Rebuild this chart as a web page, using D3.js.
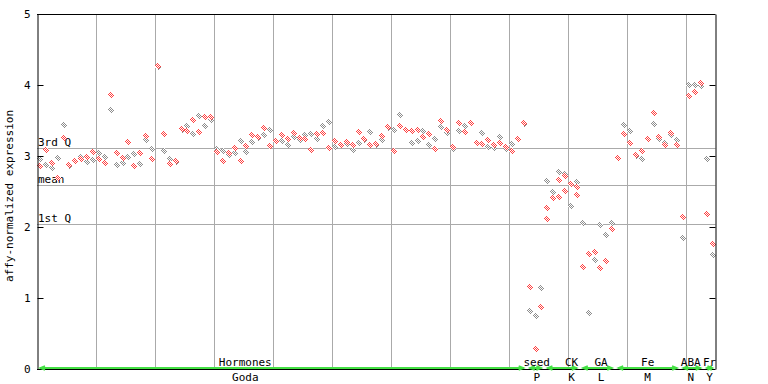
<!DOCTYPE html>
<html lang="en">
<head>
<meta charset="UTF-8">
<title>affy-normalized expression</title>
<script src="https://d3js.org/d3.v7.min.js"></script>
<style>
    body { margin: 0; background: #fff; }
    text { font-family: "DejaVu Sans Mono", monospace; font-size: 11px; fill: #000; }
</style>
</head>
<body>
<div id="chart"></div>
<script>
// samples (columns), two probe series per sample
const samples = d3.range(115);

const red = [2.86, 3.08, 2.90, 2.69, 3.25, 2.87, 2.93, 2.96, 2.99, 3.06,
             2.96, 2.90, 3.86, 3.04, 2.97, 3.20, 2.86, 3.04, 3.28, 2.96,
             4.27, 3.31, 2.89, 2.93, 3.38, 3.35, 3.51, 3.34, 3.55, 3.55,
             3.06, 2.93, 3.04, 3.11, 2.93, 3.14, 3.30, 3.27, 3.39, 3.14,
             3.21, 3.30, 3.24, 3.32, 3.25, 3.24, 3.08, 3.31, 3.32, 3.11,
             3.21, 3.15, 3.20, 3.15, 3.34, 3.24, 3.15, 3.17, 3.28, 3.41,
             3.07, 3.42, 3.37, 3.35, 3.37, 3.27, 3.31, 3.10, 3.49, 3.37,
             3.13, 3.46, 3.34, 3.47, 3.18, 3.17, 3.23, 3.15, 3.18, 3.13,
             3.07, 3.24, 3.46, 1.15, 0.28, 0.87, 2.27, 2.41, 2.66, 2.72,
             2.61, 2.56, 1.44, 1.62, 1.65, 1.42, 1.52, 1.97, 2.97, 3.31,
             3.18, 3.01, 3.07, 3.24, 3.61, 3.27, 3.15, 3.32, 3.15, 2.14,
             3.85, 3.90, 4.03, 2.18, 1.76];

const grey = [2.96, 2.87, 2.83, 2.97, 3.44, 2.86, 2.93, 2.99, 2.92, 2.94,
              3.04, 2.99, 3.65, 2.87, 2.90, 2.99, 3.03, 2.89, 3.23, 3.10,
              4.25, 3.07, 2.96, 2.92, 3.37, 3.42, 3.31, 3.56, 3.42, 3.51,
              3.10, 3.07, 3.01, 3.04, 3.21, 3.06, 3.20, 3.26, 3.30, 3.37,
              3.21, 3.21, 3.15, 3.27, 3.23, 3.30, 3.31, 3.24, 3.42, 3.48,
              3.13, 3.16, 3.17, 3.08, 3.18, 3.23, 3.34, 3.16, 3.23, 3.40,
              3.37, 3.58, 3.36, 3.18, 3.21, 3.35, 3.15, 3.24, 3.41, 3.32,
              3.10, 3.35, 3.42, 3.46, 3.18, 3.32, 3.13, 3.11, 3.27, 3.10,
              3.17, 3.24, 3.45, 0.82, 0.75, 1.14, 2.65, 2.49, 2.77, 2.75,
              2.30, 2.63, 2.06, 0.79, 1.54, 2.03, 1.89, 2.06, 2.97, 3.44,
              3.35, 3.00, 2.96, 3.24, 3.45, 3.24, 3.18, 3.30, 3.23, 1.85,
              4.00, 4.00, 3.99, 2.96, 1.61];

// a few samples carry a third replicate (red)
const extraIdx = [86, 88, 89, 91];
const extraVal = [2.11, 2.42, 2.51, 2.45];

// reference lines
const refNames = ["3rd Q", "mean", "1st Q"];
const refVals = [3.11, 2.59, 2.04];

// sample groups along the bottom
const groupTop = ["Hormones", "seed", "CK", "GA", "Fe", "ABA", "Fr"];
const groupBottom = ["Goda", "P", "K", "L", "M", "N", "Y"];
const groupStart = [0, 83, 86, 92, 98, 109, 113];
const groupEnd = [82, 85, 91, 97, 108, 112, 114];
const groupLabelAt = [35.3, 84.7, 90.6, 95.6, 103.5, 110.8, 114];

const yTicks = [0, 1, 2, 3, 4, 5];

const width = 768, height = 384;
const plotL = 37, plotR = 715.5, plotT = 14, plotB = 369;

const svg = d3.select("#chart").append("svg")
    .attr("width", width)
    .attr("height", height);

const x = d3.scaleBand().domain(samples).range([plotL, plotR]);
const y = d3.scaleLinear().domain([0, 5]).range([plotB, plotT]);
const xl = i => plotL + i * x.step();   // edge of sample i
const xc = i => x(i) + x.bandwidth() / 2;

// checker patterns for the dotted diamonds
const defs = svg.append("defs");
[["chkRed", "#ff4040"], ["chkGrey", "#8c8c8c"]].forEach(([id, c]) => {
    const p = defs.append("pattern").attr("id", id)
        .attr("patternUnits", "userSpaceOnUse")
        .attr("width", 2).attr("height", 2);
    p.append("rect").attr("width", 2).attr("height", 2).attr("fill", "#fff");
    p.append("rect").attr("width", 1).attr("height", 1).attr("fill", c);
    p.append("rect").attr("x", 1).attr("y", 1).attr("width", 1).attr("height", 1).attr("fill", c);
});

// vertical grid every 10 samples
svg.append("g").selectAll("line")
    .data(d3.range(10, 115, 10))
    .join("line")
    .attr("x1", d => Math.round(xl(d)) + 0.5)
    .attr("x2", d => Math.round(xl(d)) + 0.5)
    .attr("y1", plotT).attr("y2", plotB)
    .attr("stroke", "#aaa");

// reference lines + labels
svg.append("g").selectAll("line")
    .data(refVals)
    .join("line")
    .attr("x1", plotL).attr("x2", plotR)
    .attr("y1", d => Math.round(y(d)) + 0.5)
    .attr("y2", d => Math.round(y(d)) + 0.5)
    .attr("stroke", "#aaa");

svg.append("g").selectAll("text")
    .data(refVals)
    .join("text")
    .attr("x", plotL + 1)
    .attr("y", d => Math.round(y(d)) - 2)
    .text((d, i) => refNames[i]);

// points
const diamond = "M0,-3.5L3.5,0L0,3.5L-3.5,0Z";
const pts = [];
samples.forEach(i => {
    pts.push({ i, v: grey[i], c: "chkGrey" });
    pts.push({ i, v: red[i], c: "chkRed" });
});
extraIdx.forEach((i, k) => pts.push({ i, v: extraVal[k], c: "chkRed" }));

svg.append("g").selectAll("path")
    .data(pts)
    .join("path")
    .attr("d", diamond)
    .attr("transform", d => `translate(${Math.round(xc(d.i))},${Math.round(y(d.v))})`)
    .attr("fill", d => `url(#${d.c})`)
    .attr("shape-rendering", "crispEdges");

// frame
svg.append("line").attr("x1", plotL).attr("x2", plotR)
    .attr("y1", plotT + 0.5).attr("y2", plotT + 0.5).attr("stroke", "#000");
svg.append("line").attr("x1", plotL).attr("x2", plotR)
    .attr("y1", plotB + 0.5).attr("y2", plotB + 0.5).attr("stroke", "#000");

const yAxisL = svg.append("g")
    .attr("transform", `translate(${plotL + 0.5},0)`)
    .call(d3.axisLeft(y).tickValues(yTicks).tickSizeInner(-6).tickSizeOuter(0).tickPadding(7).tickFormat(d3.format("d")));
const yAxisR = svg.append("g")
    .attr("transform", `translate(${Math.round(plotR) - 0.5},0)`)
    .call(d3.axisRight(y).tickValues(yTicks.slice(1, 5)).tickSizeInner(-6).tickSizeOuter(0).tickFormat(""));
[yAxisL, yAxisR].forEach(g => {
    g.select(".domain").attr("stroke", "#000");
    g.selectAll(".tick line").attr("stroke", "#000");
    g.selectAll(".tick text").attr("font-family", "DejaVu Sans Mono").attr("font-size", 11);
});

svg.append("text")
    .attr("transform", "translate(13,196) rotate(-90)")
    .attr("text-anchor", "middle")
    .attr("font-size", 10.5)
    .text("affy-normalized expression");

// group bars with arrowheads
const green = "#44e044";
const grp = svg.append("g");
groupStart.forEach((s, k) => {
    const x0 = xl(s) + 3, x1 = xl(groupEnd[k] + 1) - 3, gy = 368;
    grp.append("line").attr("x1", x0).attr("x2", x1).attr("y1", gy).attr("y2", gy)
        .attr("stroke", green).attr("stroke-width", 2);
    grp.append("path").attr("d", `M${x0 + 5},${gy - 2}L${x0},${gy}L${x0 + 5},${gy + 2}`)
        .attr("stroke", green).attr("fill", "none").attr("stroke-width", 1.5);
    grp.append("path").attr("d", `M${x1 - 5},${gy - 2}L${x1},${gy}L${x1 - 5},${gy + 2}`)
        .attr("stroke", green).attr("fill", "none").attr("stroke-width", 1.5);
});

svg.append("g").selectAll("text")
    .data(groupTop)
    .join("text")
    .attr("x", (d, k) => xl(groupLabelAt[k]))
    .attr("y", 366)
    .attr("text-anchor", "middle")
    .text(d => d);

svg.append("g").selectAll("text")
    .data(groupBottom)
    .join("text")
    .attr("x", (d, k) => xl(groupLabelAt[k]))
    .attr("y", 381)
    .attr("text-anchor", "middle")
    .text(d => d);
</script>
</body>
</html>
